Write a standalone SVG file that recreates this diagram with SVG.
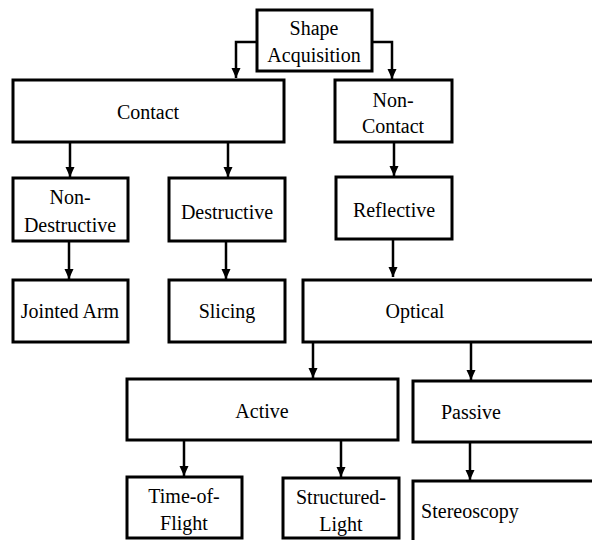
<svg xmlns="http://www.w3.org/2000/svg" width="592" height="540" viewBox="0 0 592 540">
<defs>
<style>
.box{fill:#fff;stroke:#000;stroke-width:3}
.t{font-size:20px;fill:#000;text-anchor:middle}
.c{fill:none;stroke:#000;stroke-width:2.5;marker-end:url(#ah)}
</style>
<marker id="ah" markerUnits="userSpaceOnUse" markerWidth="11" markerHeight="10" refX="10" refY="5" orient="auto">
<path d="M0,0.5 L10,5 L0,9.5 z" fill="#000"/>
</marker>
</defs>
<rect width="592" height="540" fill="#fff"/>
<g id="connectors">
<path class="c" d="M257,42 H236 V78"/>
<path class="c" d="M372,42 H392 V79"/>
<path class="c" d="M70,142 V177"/>
<path class="c" d="M228,142 V177"/>
<path class="c" d="M394,142 V176"/>
<path class="c" d="M69,241 V279"/>
<path class="c" d="M226,241 V279"/>
<path class="c" d="M393,239 V277"/>
<path class="c" d="M313,342 V378"/>
<path class="c" d="M471,342 V380"/>
<path class="c" d="M184,440 V476"/>
<path class="c" d="M341,440 V477"/>
<path class="c" d="M470,442 V480"/>
</g>
<g font-family="Liberation Serif, DejaVu Serif, serif">
<g id="shape-acquisition"><rect class="box" x="257" y="10" width="115" height="61"/><text class="t" x="314" y="35">Shape</text><text class="t" x="314" y="62">Acquisition</text></g>
<g id="contact"><rect class="box" x="13" y="80" width="271" height="62"/><text class="t" x="148" y="119">Contact</text></g>
<g id="non-contact"><rect class="box" x="335" y="80" width="117" height="62"/><text class="t" x="393" y="107">Non-</text><text class="t" x="393" y="133">Contact</text></g>
<g id="non-destructive"><rect class="box" x="13" y="178" width="115" height="63"/><text class="t" x="70" y="204">Non-</text><text class="t" x="70" y="232">Destructive</text></g>
<g id="destructive"><rect class="box" x="169" y="178" width="116" height="63"/><text class="t" x="227" y="219">Destructive</text></g>
<g id="reflective"><rect class="box" x="336" y="177" width="116" height="62"/><text class="t" x="394" y="217">Reflective</text></g>
<g id="jointed-arm"><rect class="box" x="13" y="280" width="115" height="62"/><text class="t" x="70" y="318">Jointed Arm</text></g>
<g id="slicing"><rect class="box" x="169" y="280" width="116" height="62"/><text class="t" x="227" y="318">Slicing</text></g>
<g id="optical"><rect class="box" x="303" y="280" width="300" height="62"/><text class="t" x="415" y="318">Optical</text></g>
<g id="active"><rect class="box" x="127" y="379" width="271" height="61"/><text class="t" x="262" y="418">Active</text></g>
<g id="passive"><rect class="box" x="413" y="381" width="190" height="61"/><text class="t" x="471" y="419">Passive</text></g>
<g id="time-of-flight"><rect class="box" x="127" y="477" width="115" height="61"/><text class="t" x="184" y="503">Time-of-</text><text class="t" x="184" y="530">Flight</text></g>
<g id="structured-light"><rect class="box" x="283" y="478" width="116" height="60"/><text class="t" x="341" y="504">Structured-</text><text class="t" x="341" y="531">Light</text></g>
<g id="stereoscopy"><rect class="box" x="413" y="481" width="190" height="70"/><text class="t" x="470" y="518">Stereoscopy</text></g>
</g>
</svg>
